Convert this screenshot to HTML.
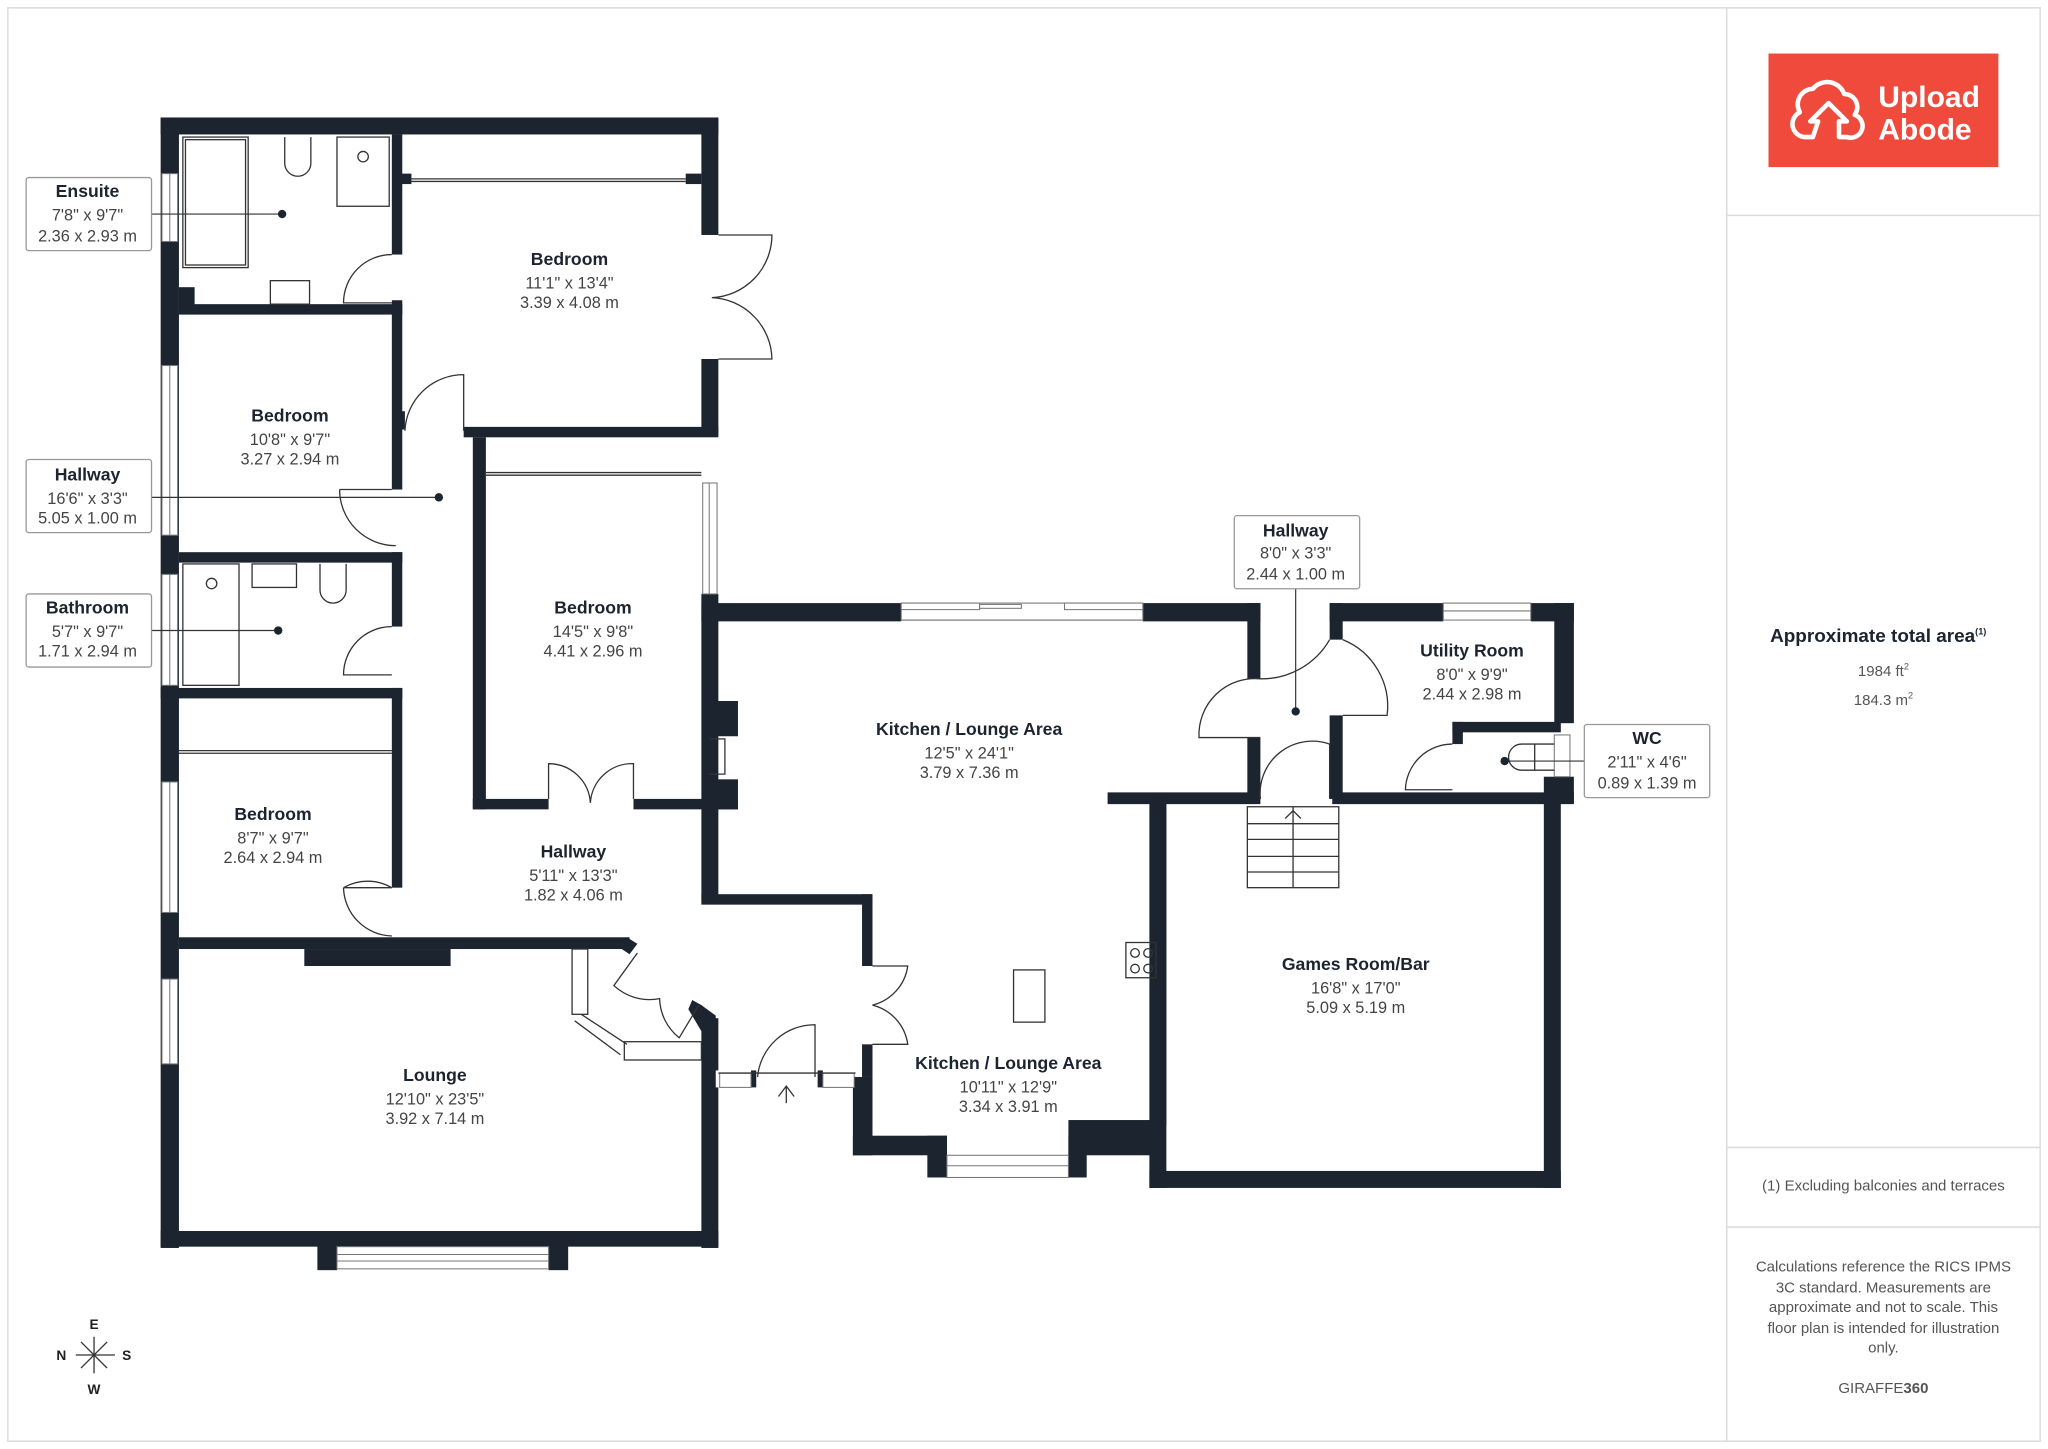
<!DOCTYPE html>
<html><head><meta charset="utf-8"><style>
html,body{margin:0;padding:0;background:#fff;}
svg{display:block;}
text{font-family:"Liberation Sans",sans-serif;}
.n{font-weight:bold;font-size:13.5px;fill:#1c2430;text-anchor:middle;}
.d{font-size:12.5px;fill:#444;text-anchor:middle;}
.w{fill:#1c2430;}
.win{fill:#fff;stroke:#777;stroke-width:0.8;}
.th{fill:none;stroke:#333;stroke-width:1;}
.lb{fill:#fff;stroke:#999;stroke-width:1;}
.p{font-size:11.5px;fill:#555;text-anchor:middle;}
</style></head><body>
<svg width="2048" height="1449" viewBox="0 0 1568 1110" preserveAspectRatio="none" xmlns="http://www.w3.org/2000/svg">
<rect x="6" y="6" width="1556" height="1098" fill="#fff" stroke="#ddd" stroke-width="1.2"/>
<line x1="1322" y1="6" x2="1322" y2="1104" stroke="#ddd" stroke-width="1.2"/>
<line x1="1322" y1="165" x2="1562" y2="165" stroke="#ddd" stroke-width="1.2"/>
<line x1="1322" y1="879" x2="1562" y2="879" stroke="#ddd" stroke-width="1.2"/>
<line x1="1322" y1="940" x2="1562" y2="940" stroke="#ddd" stroke-width="1.2"/>

<!-- logo -->
<rect x="1354" y="41" width="176" height="87" fill="#f04a3c"/>
<path d="M1388 105 h-6 a10 10 0 0 1 -4 -19 a12 12 0 0 1 10 -18 a14 14 0 0 1 24 4 a10 10 0 0 1 8 16 a9 9 0 0 1 -6 17 h-6 v-12 h6 l-14 -14 l-14 14 h6 z" fill="none" stroke="#fff" stroke-width="3.5" stroke-linejoin="round"/>
<text x="1438" y="82" font-size="23" fill="#fff" font-weight="bold">Upload</text>
<text x="1438" y="107" font-size="23" fill="#fff" font-family="Liberation Serif" font-weight="bold">Abode</text>

<!-- panel text -->
<text x="1438" y="492" font-size="14.5" font-weight="bold" fill="#1c2430" text-anchor="middle">Approximate total area<tspan font-size="7" dy="-6">(1)</tspan></text>
<text x="1442" y="518" class="p" font-size="12.5">1984 ft<tspan font-size="7" dy="-5">2</tspan></text>
<text x="1442" y="540" class="p" font-size="12.5">184.3 m<tspan font-size="7" dy="-5">2</tspan></text>
<text x="1442" y="912" class="p" font-size="11">(1) Excluding balconies and terraces</text>
<text x="1442" y="974" class="p" font-size="11">Calculations reference the RICS IPMS</text>
<text x="1442" y="990" class="p" font-size="11">3C standard. Measurements are</text>
<text x="1442" y="1005" class="p" font-size="11">approximate and not to scale. This</text>
<text x="1442" y="1021" class="p" font-size="11">floor plan is intended for illustration</text>
<text x="1442" y="1036" class="p" font-size="11">only.</text>
<text x="1442" y="1067" class="p" font-size="11.5" fill="#222">GIRAFFE<tspan font-weight="bold">360</tspan></text>

<!-- compass -->
<g stroke="#333" stroke-width="1" fill="none">
<line x1="58" y1="1038" x2="88" y2="1038"/><line x1="72" y1="1024" x2="72" y2="1052"/>
<line x1="62" y1="1028" x2="82" y2="1048"/><line x1="82" y1="1028" x2="62" y2="1048"/>
</g>
<text x="72" y="1018" font-size="10.5" text-anchor="middle" font-weight="bold" fill="#222">E</text>
<text x="72" y="1068" font-size="10.5" text-anchor="middle" font-weight="bold" fill="#222">W</text>
<text x="47" y="1042" font-size="10.5" text-anchor="middle" font-weight="bold" fill="#222">N</text>
<text x="97" y="1042" font-size="10.5" text-anchor="middle" font-weight="bold" fill="#222">S</text>

<!-- ===== WALLS ===== -->
<g class="w">
<rect x="123" y="90" width="427" height="13"/>
<rect x="123" y="90" width="14" height="866"/>
<rect x="537" y="90" width="13" height="90"/>
<rect x="537" y="275" width="13" height="58"/>
<rect x="300" y="103" width="8" height="92"/>
<rect x="306" y="133" width="9" height="8"/><rect x="525" y="133" width="12" height="8"/>
<rect x="137" y="220" width="12" height="14"/>
<rect x="137" y="233" width="171" height="8"/>
<rect x="300" y="230" width="8" height="145"/>
<rect x="306" y="315" width="4" height="14"/>
<rect x="355" y="327" width="195" height="8"/>
<rect x="137" y="423" width="171" height="8"/>
<rect x="300" y="423" width="8" height="57"/>
<rect x="123" y="527" width="185" height="8"/>
<rect x="300" y="527" width="8" height="153"/>
<rect x="362" y="335" width="10" height="285"/>
<rect x="362" y="612" width="58" height="8"/>
<rect x="485" y="612" width="80" height="8"/>
<rect x="537" y="455" width="13" height="235"/>
<rect x="540" y="537" width="25" height="27"/>
<rect x="540" y="597" width="25" height="23"/>
<rect x="137" y="718" width="345" height="9"/>
<polygon points="480,718 488,723 482,731 476,727"/>
<rect x="233" y="727" width="112" height="13"/>
<rect x="537" y="685" width="131" height="8"/>
<rect x="660" y="685" width="8" height="55"/>
<rect x="660" y="800" width="8" height="25"/>
<rect x="653" y="825" width="15" height="60"/>
<rect x="653" y="870" width="72" height="15"/>
<rect x="710" y="870" width="15" height="32"/>
<rect x="818" y="870" width="14" height="32"/>
<rect x="818" y="858" width="70" height="27"/>
<rect x="537" y="780" width="13" height="176"/>
<polygon points="530,766 537,770 548,778 548,790 537,790 527,773"/>
<rect x="123" y="943" width="427" height="12"/>
<rect x="243" y="943" width="15" height="30"/>
<rect x="420" y="943" width="15" height="30"/>
<rect x="537" y="462" width="153" height="14"/>
<rect x="875" y="462" width="90" height="14"/>
<rect x="955" y="462" width="10" height="58"/>
<rect x="955" y="565" width="10" height="47"/>
<rect x="848" y="607" width="117" height="9"/>
<rect x="1020" y="607" width="185" height="9"/>
<rect x="1018" y="462" width="10" height="28"/>
<rect x="1018" y="548" width="10" height="64"/>
<rect x="1018" y="462" width="87" height="14"/>
<rect x="1172" y="462" width="33" height="14"/>
<rect x="1190" y="462" width="15" height="92"/>
<rect x="1112" y="553" width="83" height="8"/>
<rect x="1112" y="553" width="8" height="17"/>
<rect x="1182" y="595" width="23" height="20"/>
<rect x="880" y="612" width="13" height="298"/>
<rect x="885" y="612" width="8" height="250"/>
<rect x="880" y="897" width="315" height="13"/>
<rect x="1182" y="612" width="13" height="298"/>
<rect x="548" y="820" width="30" height="13" fill="#fff"/>
<rect x="575" y="820" width="4" height="13"/>
<rect x="626" y="820" width="4" height="13"/>
</g>

<!-- windows -->
<g>
<rect class="win" x="124" y="133" width="12" height="52"/><line x1="130" y1="133" x2="130" y2="185" stroke="#777" stroke-width="0.8"/>
<rect class="win" x="124" y="280" width="12" height="130"/><line x1="130" y1="280" x2="130" y2="410" stroke="#777" stroke-width="0.8"/>
<rect class="win" x="124" y="440" width="12" height="85"/><line x1="130" y1="440" x2="130" y2="525" stroke="#777" stroke-width="0.8"/>
<rect class="win" x="124" y="599" width="12" height="100"/><line x1="130" y1="599" x2="130" y2="699" stroke="#777" stroke-width="0.8"/>
<rect class="win" x="124" y="750" width="12" height="65"/><line x1="130" y1="750" x2="130" y2="815" stroke="#777" stroke-width="0.8"/>
<rect class="win" x="538" y="370" width="11" height="85"/><line x1="543" y1="370" x2="543" y2="455" stroke="#777" stroke-width="0.8"/>
<rect class="win" x="258" y="955" width="162" height="17"/><line x1="258" y1="961" x2="420" y2="961" stroke="#777" stroke-width="0.8"/><line x1="258" y1="966" x2="420" y2="966" stroke="#777" stroke-width="0.8"/>
<rect class="win" x="725" y="885" width="93" height="17"/><line x1="725" y1="893" x2="818" y2="893" stroke="#777" stroke-width="0.8"/>
<rect class="win" x="690" y="462" width="185" height="13" stroke="none"/>
<rect class="win" x="690" y="462" width="60" height="5"/><rect class="win" x="750" y="463" width="32" height="3"/>
<rect class="win" x="815" y="462" width="60" height="5"/><line x1="690" y1="475" x2="875" y2="475" stroke="#777" stroke-width="0.8"/>
<rect class="win" x="1105" y="462" width="67" height="13"/><line x1="1105" y1="468" x2="1172" y2="468" stroke="#777" stroke-width="0.8"/>
<rect class="win" x="1190" y="563" width="12" height="32"/>
<rect class="win" x="551" y="822" width="24" height="11"/><rect class="win" x="630" y="822" width="24" height="11"/>
</g>

<!-- wardrobes, fixtures, doors -->
<g class="th">
<line x1="315" y1="137" x2="525" y2="137"/><line x1="315" y1="139" x2="525" y2="139"/>
<line x1="372" y1="362" x2="537" y2="362"/><line x1="372" y1="364" x2="537" y2="364"/>
<line x1="137" y1="575" x2="300" y2="575"/><line x1="137" y1="577" x2="300" y2="577"/>
<rect x="140" y="105" width="50" height="100"/><rect x="142" y="107" width="46" height="96"/>
<path d="M218 105 v20 a10 10 0 0 0 20 0 v-20"/>
<rect x="258" y="105" width="40" height="53"/><circle cx="278" cy="120" r="4"/>
<rect x="207" y="215" width="30" height="18"/>
<rect x="140" y="432" width="43" height="93"/><circle cx="162" cy="447" r="4"/>
<rect x="193" y="432" width="34" height="18"/>
<path d="M245 432 v20 a10 10 0 0 0 20 0 v-20"/>
<!-- doors -->
<path d="M300 195 A37 37 0 0 0 263 232 H300"/>
<path d="M550 180 H591 A48 48 0 0 1 545 228 A48 48 0 0 1 591 275 H550"/>
<path d="M310 330 A45 45 0 0 1 355 287 V330"/>
<path d="M260 375 H300 M260 375 A43 43 0 0 0 303 418"/>
<path d="M300 480 A37 37 0 0 0 263 517 H300"/>
<path d="M300 680 A37 37 0 0 0 263 680 M263 680 H300 M263 680 A38 38 0 0 0 300 717"/>
<path d="M420 612 V585 A32 32 0 0 1 452 615 A32 32 0 0 1 485 585 V612"/>
<path d="M668 740 H695 A36 36 0 0 1 668 770 A36 36 0 0 1 695 800 H668"/>
<path d="M580 825 A44 44 0 0 1 624 785 V825"/>
<line x1="550" y1="822" x2="655" y2="822"/>
<path d="M488 730 L470 755 A40 40 0 0 0 505 765 A40 40 0 0 0 520 795 L535 770"/>
<rect x="438" y="727" width="12" height="50"/><path d="M445 777 L480 800 M440 782 L475 808"/>
<rect x="478" y="798" width="59" height="14"/>
<path d="M965 520 A43 43 0 0 0 918 565 H965"/>
<path d="M1018 490 A60 60 0 0 1 965 520"/>
<path d="M1028 490 A55 55 0 0 1 1062 548 H1028"/>
<path d="M965 612 A40 40 0 0 1 1018 570 V612"/>
<path d="M1112 570 A36 36 0 0 0 1076 605 H1112"/>
<path d="M1190 570 H1165 A10 10 0 0 0 1165 590 H1190 M1175 570 V590"/>
<rect x="955" y="618" width="70" height="62"/>
<line x1="990" y1="618" x2="990" y2="680"/>
<line x1="955" y1="631" x2="1025" y2="631"/><line x1="955" y1="643" x2="1025" y2="643"/><line x1="955" y1="656" x2="1025" y2="656"/><line x1="955" y1="668" x2="1025" y2="668"/>
<path d="M984 627 L990 621 L996 627"/>
<rect x="862" y="722" width="23" height="27"/>
<circle cx="869" cy="730" r="3.3"/><circle cx="879" cy="730" r="3.3"/><circle cx="869" cy="742" r="3.3"/><circle cx="879" cy="742" r="3.3"/>
<rect x="776" y="743" width="24" height="40"/>
<path d="M543 566 h12 v27 h-12"/>
<path d="M596 840 L602 832 L608 840 M602 832 V845"/>
</g>

<!-- label leader lines -->
<g stroke="#333" stroke-width="0.9">
<line x1="116" y1="164" x2="216" y2="164"/>
<line x1="116" y1="381" x2="336" y2="381"/>
<line x1="116" y1="483" x2="213" y2="483"/>
<line x1="992" y1="450" x2="992" y2="545"/>
<line x1="1152" y1="583" x2="1213" y2="583"/>
</g>
<g fill="#1c2430">
<circle cx="216" cy="164" r="3.2"/><circle cx="336" cy="381" r="3.2"/><circle cx="213" cy="483" r="3.2"/><circle cx="992" cy="545" r="3.2"/><circle cx="1152" cy="583" r="3.2"/>
</g>

<!-- label boxes -->
<rect class="lb" x="20" y="136" width="96" height="56" rx="2"/>
<text x="67" y="151" class="n">Ensuite</text><text x="67" y="169" class="d">7'8" x 9'7"</text><text x="67" y="185" class="d">2.36 x 2.93 m</text>
<rect class="lb" x="20" y="352" width="96" height="56" rx="2"/>
<text x="67" y="368" class="n">Hallway</text><text x="67" y="386" class="d">16'6" x 3'3"</text><text x="67" y="401" class="d">5.05 x 1.00 m</text>
<rect class="lb" x="20" y="455" width="96" height="56" rx="2"/>
<text x="67" y="470" class="n">Bathroom</text><text x="67" y="488" class="d">5'7" x 9'7"</text><text x="67" y="503" class="d">1.71 x 2.94 m</text>
<rect class="lb" x="945" y="395" width="96" height="56" rx="2"/>
<text x="992" y="411" class="n">Hallway</text><text x="992" y="428" class="d">8'0" x 3'3"</text><text x="992" y="444" class="d">2.44 x 1.00 m</text>
<rect class="lb" x="1213" y="555" width="96" height="56" rx="2"/>
<text x="1261" y="570" class="n">WC</text><text x="1261" y="588" class="d">2'11" x 4'6"</text><text x="1261" y="604" class="d">0.89 x 1.39 m</text>

<!-- room labels -->
<text x="436" y="203" class="n">Bedroom</text><text x="436" y="221" class="d">11'1" x 13'4"</text><text x="436" y="236" class="d">3.39 x 4.08 m</text>
<text x="222" y="323" class="n">Bedroom</text><text x="222" y="341" class="d">10'8" x 9'7"</text><text x="222" y="356" class="d">3.27 x 2.94 m</text>
<text x="454" y="470" class="n">Bedroom</text><text x="454" y="488" class="d">14'5" x 9'8"</text><text x="454" y="503" class="d">4.41 x 2.96 m</text>
<text x="209" y="628" class="n">Bedroom</text><text x="209" y="646" class="d">8'7" x 9'7"</text><text x="209" y="661" class="d">2.64 x 2.94 m</text>
<text x="439" y="657" class="n">Hallway</text><text x="439" y="675" class="d">5'11" x 13'3"</text><text x="439" y="690" class="d">1.82 x 4.06 m</text>
<text x="333" y="828" class="n">Lounge</text><text x="333" y="846" class="d">12'10" x 23'5"</text><text x="333" y="861" class="d">3.92 x 7.14 m</text>
<text x="742" y="563" class="n">Kitchen / Lounge Area</text><text x="742" y="581" class="d">12'5" x 24'1"</text><text x="742" y="596" class="d">3.79 x 7.36 m</text>
<text x="772" y="819" class="n">Kitchen / Lounge Area</text><text x="772" y="837" class="d">10'11" x 12'9"</text><text x="772" y="852" class="d">3.34 x 3.91 m</text>
<text x="1127" y="503" class="n">Utility Room</text><text x="1127" y="521" class="d">8'0" x 9'9"</text><text x="1127" y="536" class="d">2.44 x 2.98 m</text>
<text x="1038" y="743" class="n">Games Room/Bar</text><text x="1038" y="761" class="d">16'8" x 17'0"</text><text x="1038" y="776" class="d">5.09 x 5.19 m</text>
</svg>
</body></html>
